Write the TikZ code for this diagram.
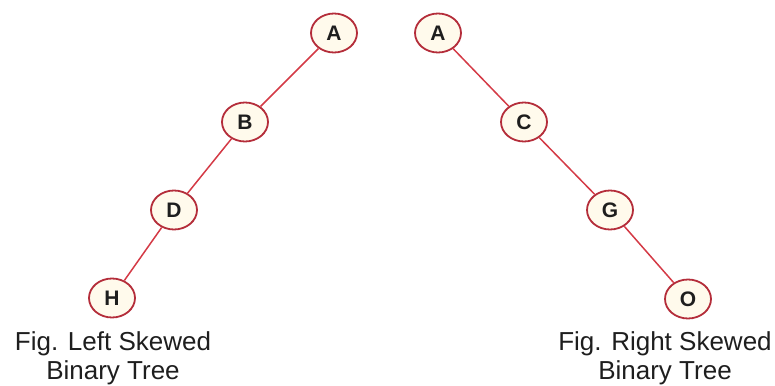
\documentclass[tikz,border=0pt]{standalone}
\usepackage{fontspec}
\setmainfont{Liberation Sans}
\usetikzlibrary{shapes.geometric}
\definecolor{nodeborder}{RGB}{180,45,58}
\definecolor{edgecol}{RGB}{212,58,70}
\definecolor{nodein}{RGB}{255,250,236}
\definecolor{nodeout}{RGB}{242,178,180}
\definecolor{txt}{RGB}{30,30,30}
\pgfdeclareradialshading{nodeglow}{\pgfpoint{0bp}{0bp}}{color(0bp)=(nodein); color(26bp)=(nodein); color(44bp)=(nodeout); color(50bp)=(nodeout)}
\tikzset{
  tnode/.style={ellipse, draw=nodeborder, line width=1.8pt, shade, shading=nodeglow,
    minimum width=46pt, minimum height=39pt, inner sep=0pt, text=txt,
    font=\fontsize{21}{21}\selectfont\bfseries},
  tedge/.style={draw=edgecol, line width=1.5pt},
  caption/.style={align=center, inner sep=0pt, anchor=north, text=txt,
    font=\fontsize{26}{29}\selectfont}
}
\begin{document}
\begin{tikzpicture}[x=1pt,y=-1pt]
\useasboundingbox (0,0) rectangle (775,385);
% left skewed tree
\node[tnode] (lA) at (334,33) {A};
\node[tnode] (lB) at (245,122) {B};
\node[tnode] (lD) at (174,210) {D};
\node[tnode] (lH) at (112,298) {H};
% right skewed tree
\node[tnode] (rA) at (438,33) {A};
\node[tnode] (rC) at (524,122) {C};
\node[tnode] (rG) at (610,210) {G};
\node[tnode] (rO) at (688,299) {O};
% edges
\draw[tedge] (lA) -- (lB);
\draw[tedge] (lB) -- (lD);
\draw[tedge] (lD) -- (lH);
\draw[tedge] (rA) -- (rC);
\draw[tedge] (rC) -- (rG);
\draw[tedge] (rG) -- (rO);
% captions
\node[caption] (capL) at (113,331) {Fig. Left Skewed\\Binary Tree};
\node[caption] (capR) at (665,331) {Fig. Right Skewed\\Binary Tree};
\end{tikzpicture}
\end{document}
